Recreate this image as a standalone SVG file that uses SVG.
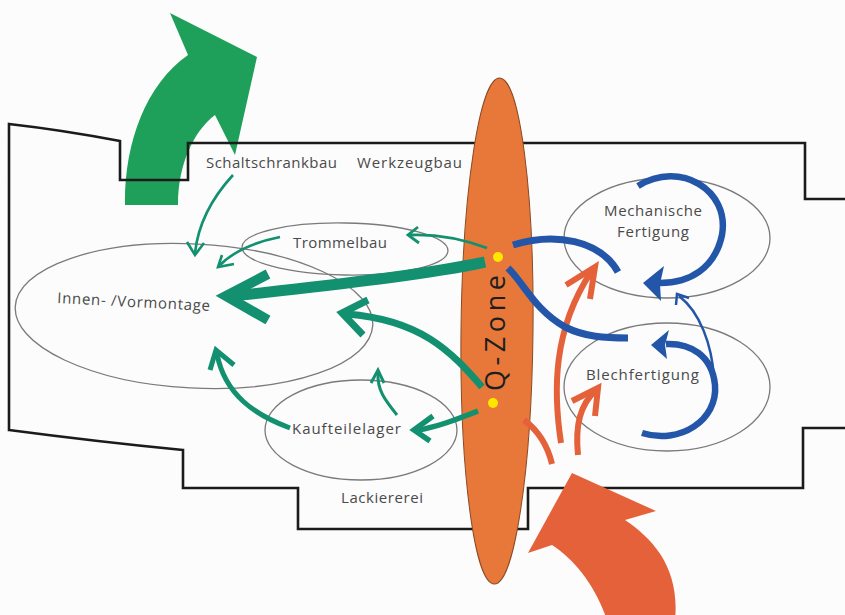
<svg xmlns="http://www.w3.org/2000/svg" width="845" height="615" viewBox="0 0 845 615">
<style>
.outline{fill:none;stroke:#1b1b1b;stroke-width:2.6;stroke-linejoin:miter}
.area{fill:none;stroke:#7a7a7a;stroke-width:1.3}
.lbl{font-family:"Open Sans","Liberation Sans",sans-serif;font-size:15px;fill:#4a4a4a}
.teal{fill:none;stroke:#12906F;stroke-linecap:butt;stroke-linejoin:miter}
.blue{fill:none;stroke:#2356A8;stroke-linecap:butt}
.red{fill:none;stroke:#E4613A;stroke-linecap:butt;stroke-linejoin:miter}
.bluehead{fill:#2356A8}
</style>
<rect width="845" height="615" fill="#fcfcfc"/>

<g id="export-arrow">
<path d="M125,205 C124,145 145,85 188,55 L170,13 L257,57 L235,155 L215,115 C193,132 178,165 178,205 Z" fill="#1FA05A"/>
</g>

<g id="building">
<path class="outline" d="M845,199 L805,199 L805,143 L188,143 L188,180 L120,180 L120,141 Q62,130 9,124 L9,430 Q100,442 183,450 L183,488 L298,488 L298,529 L528,529 L528,488 L803,488 L803,428 L845,428"/>
</g>

<g id="innen-vormontage">
<ellipse class="area" cx="194" cy="316" rx="179" ry="72" transform="rotate(3 194 316)"/>
<text class="lbl" x="57" y="303" textLength="153" transform="rotate(3 57 303)">Innen- /Vormontage</text>
</g>
<g id="trommelbau">
<ellipse class="area" cx="345" cy="249" rx="103" ry="26" transform="rotate(1 345 249)"/>
<text class="lbl" x="293" y="248" textLength="94">Trommelbau</text>
</g>
<g id="kaufteilelager">
<ellipse class="area" cx="361" cy="430" rx="96" ry="50"/>
<text class="lbl" x="292" y="434" textLength="109">Kaufteilelager</text>
</g>
<g id="mechanische-fertigung">
<ellipse class="area" cx="667" cy="238" rx="103" ry="60"/>
<text class="lbl" x="604" y="216" textLength="98">Mechanische</text>
<text class="lbl" x="617" y="237" textLength="72">Fertigung</text>
</g>
<g id="blechfertigung">
<ellipse class="area" cx="667" cy="387" rx="103" ry="64"/>
<text class="lbl" x="586" y="380" textLength="113">Blechfertigung</text>
</g>
<g id="schaltschrankbau">
<text class="lbl" x="206" y="168" textLength="131">Schaltschrankbau</text>
</g>
<g id="werkzeugbau">
<text class="lbl" x="357" y="168" textLength="105">Werkzeugbau</text>
</g>
<g id="lackiererei">
<text class="lbl" x="341" y="503" textLength="82">Lackiererei</text>
</g>

<g id="q-zone">
<ellipse cx="497" cy="331" rx="36" ry="253" fill="#E8783A" stroke="#8a4a22" stroke-width="1" transform="rotate(0.6 497 331)"/>
<text x="0" y="0" transform="translate(505,333) rotate(-90)" text-anchor="middle" textLength="116" font-family="'Open Sans','Liberation Sans',sans-serif" font-size="27" fill="#1e1e1e">Q-Zone</text>
<circle cx="498" cy="257" r="5" fill="#FFE600"/>
<circle cx="493" cy="403" r="5" fill="#FFE600"/>
</g>

<g id="connectors">
<path class="teal" stroke-width="2.6" d="M233,175 C210,200 198,225 195,253"/>
<path class="teal" stroke-width="2.6" d="M187,242 L195,255 L204,243"/>
<path class="teal" stroke-width="2.6" d="M280,237 C255,242 233,252 220,265"/>
<path class="teal" stroke-width="2.6" d="M222,255 L218,267 L234,264"/>
<path class="teal" stroke-width="2.8" d="M487,248 C460,238 435,234 410,235"/>
<path class="teal" stroke-width="2.8" d="M418,227 L408,235 L419,243"/>
<path class="teal" stroke-width="11" d="M485,262 C420,276 320,286 234,296"/>
<path class="teal" stroke-width="10" d="M268,274 L226,296 L268,320"/>
<path class="teal" stroke-width="7" d="M482,387 C450,350 420,320 347,314"/>
<path class="teal" stroke-width="7" d="M368,300 L342,313 L363,335"/>
<path class="teal" stroke-width="5.5" d="M478,411 C455,420 437,427 418,430"/>
<path class="teal" stroke-width="5.5" d="M433,416 L414,430 L430,441"/>
<path class="teal" stroke-width="5" d="M290,428 C255,415 225,395 217,354"/>
<path class="teal" stroke-width="5" d="M210,370 L216,350 L234,365"/>
<path class="teal" stroke-width="3" d="M397,415 C385,400 377,390 378,373"/>
<path class="teal" stroke-width="3" d="M371,383 L378,370 L384,383"/>
<path d="M607,620 C595,585 575,560 552,545 L528,553 L572,473 L656,511 L625,520 C655,540 680,570 675,620 Z" fill="#E4613A"/>
<path class="red" stroke-width="6" d="M561,443 C553,390 553,330 591,272"/>
<path class="red" stroke-width="6" d="M566,285 L595,267 L590,299"/>
<path class="red" stroke-width="6" d="M578,455 C575,425 580,405 596,390"/>
<path class="red" stroke-width="6" d="M572,401 L598,388 L595,416"/>
<path class="red" stroke-width="6" d="M524,420 C540,432 548,447 552,464"/>
<path class="blue" stroke-width="6.5" d="M638,186 C680,160 730,190 722,235 C715,268 690,283 660,283"/>
<polygon class="bluehead" points="643,283 664,266 660,284 661,301"/>
<path class="blue" stroke-width="7" d="M513,245 C555,232 600,240 618,272"/>
<path class="blue" stroke-width="7" d="M508,268 C525,285 535,310 565,327 C585,337 605,338 628,338"/>
<path class="blue" stroke-width="6.5" d="M642,433 C680,445 718,420 715,385 C712,355 690,343 666,344"/>
<polygon class="bluehead" points="651,345 669,330 665,345 667,359"/>
<path class="blue" stroke-width="2.5" d="M714,378 C712,345 700,312 679,296"/>
<path class="blue" stroke-width="2.5" d="M676,305 L677,294 L689,298"/>
</g>
</svg>
